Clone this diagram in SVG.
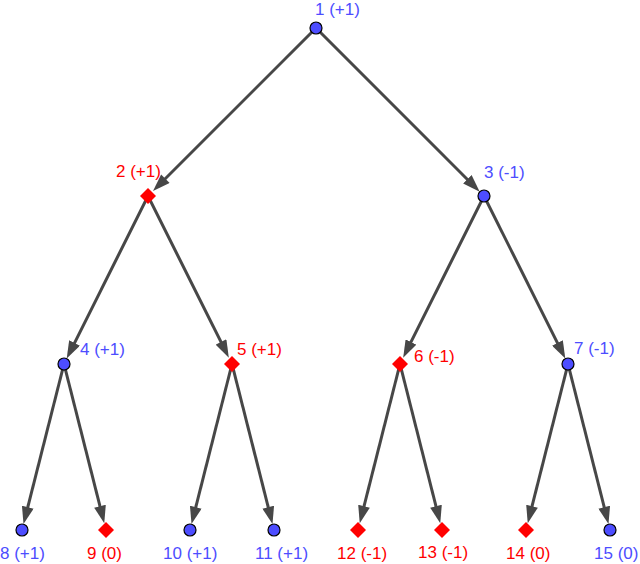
<svg xmlns="http://www.w3.org/2000/svg" width="640" height="564" viewBox="0 0 640 564">
<style>
.e{stroke:#474747;stroke-width:3;fill:none;marker-end:url(#ah)}
.c{fill:#4d4dff;stroke:#000;stroke-width:1.2}
.d{fill:#ff0000}
text{font-family:"Liberation Sans",Arial,sans-serif;font-size:17px}
.tb{fill:#4d4dff}
.tr{fill:#ff0000}
</style>
<defs>
<marker id="ah" markerUnits="userSpaceOnUse" markerWidth="18" markerHeight="12" viewBox="0 0 16 11" refX="6" refY="5.5" orient="auto">
<path d="M0,0 L16,5.5 L0,11 z" fill="#474747"/>
</marker>
</defs>
<rect width="640" height="564" fill="#fff"/>
<g id="connectors">
<line class="e" x1="316" y1="28" x2="160.73" y2="183.27"/>
<line class="e" x1="316" y1="28" x2="471.98" y2="183.98"/>
<line class="e" x1="148" y1="196" x2="71.6" y2="348.8"/>
<line class="e" x1="148" y1="196" x2="223.95" y2="347.9"/>
<line class="e" x1="484" y1="196" x2="408.05" y2="347.9"/>
<line class="e" x1="484" y1="196" x2="560.4" y2="348.8"/>
<line class="e" x1="64" y1="364" x2="26.17" y2="513.52"/>
<line class="e" x1="64" y1="364" x2="101.58" y2="512.55"/>
<line class="e" x1="232" y1="364" x2="194.17" y2="513.52"/>
<line class="e" x1="232" y1="364" x2="269.83" y2="513.52"/>
<line class="e" x1="400" y1="364" x2="362.42" y2="512.55"/>
<line class="e" x1="400" y1="364" x2="437.58" y2="512.55"/>
<line class="e" x1="568" y1="364" x2="530.42" y2="512.55"/>
<line class="e" x1="568" y1="364" x2="605.83" y2="513.52"/>
</g>
<g id="n1"><circle class="c" cx="316" cy="28" r="6"/><text class="tb" x="315" y="15">1 (+1)</text></g>
<g id="n2"><polygon class="d" points="148,188 156,196 148,204 140,196"/><text class="tr" x="116" y="177">2 (+1)</text></g>
<g id="n3"><circle class="c" cx="484" cy="196" r="6"/><text class="tb" x="484" y="178">3 (-1)</text></g>
<g id="n4"><circle class="c" cx="64" cy="364" r="6"/><text class="tb" x="80" y="355">4 (+1)</text></g>
<g id="n5"><polygon class="d" points="232,356 240,364 232,372 224,364"/><text class="tr" x="237" y="355">5 (+1)</text></g>
<g id="n6"><polygon class="d" points="400,356 408,364 400,372 392,364"/><text class="tr" x="414" y="362">6 (-1)</text></g>
<g id="n7"><circle class="c" cx="568" cy="364" r="6"/><text class="tb" x="574" y="354">7 (-1)</text></g>
<g id="n8"><circle class="c" cx="22" cy="530" r="6"/><text class="tb" x="0" y="559">8 (+1)</text></g>
<g id="n9"><polygon class="d" points="106,522 114,530 106,538 98,530"/><text class="tr" x="87" y="559">9 (0)</text></g>
<g id="n10"><circle class="c" cx="190" cy="530" r="6"/><text class="tb" x="163" y="559">10 (+1)</text></g>
<g id="n11"><circle class="c" cx="274" cy="530" r="6"/><text class="tb" x="255" y="559">11 (+1)</text></g>
<g id="n12"><polygon class="d" points="358,522 366,530 358,538 350,530"/><text class="tr" x="337" y="559">12 (-1)</text></g>
<g id="n13"><polygon class="d" points="442,522 450,530 442,538 434,530"/><text class="tr" x="418" y="558">13 (-1)</text></g>
<g id="n14"><polygon class="d" points="526,522 534,530 526,538 518,530"/><text class="tr" x="506" y="559">14 (0)</text></g>
<g id="n15"><circle class="c" cx="610" cy="530" r="6"/><text class="tb" x="594" y="559">15 (0)</text></g>
</svg>
